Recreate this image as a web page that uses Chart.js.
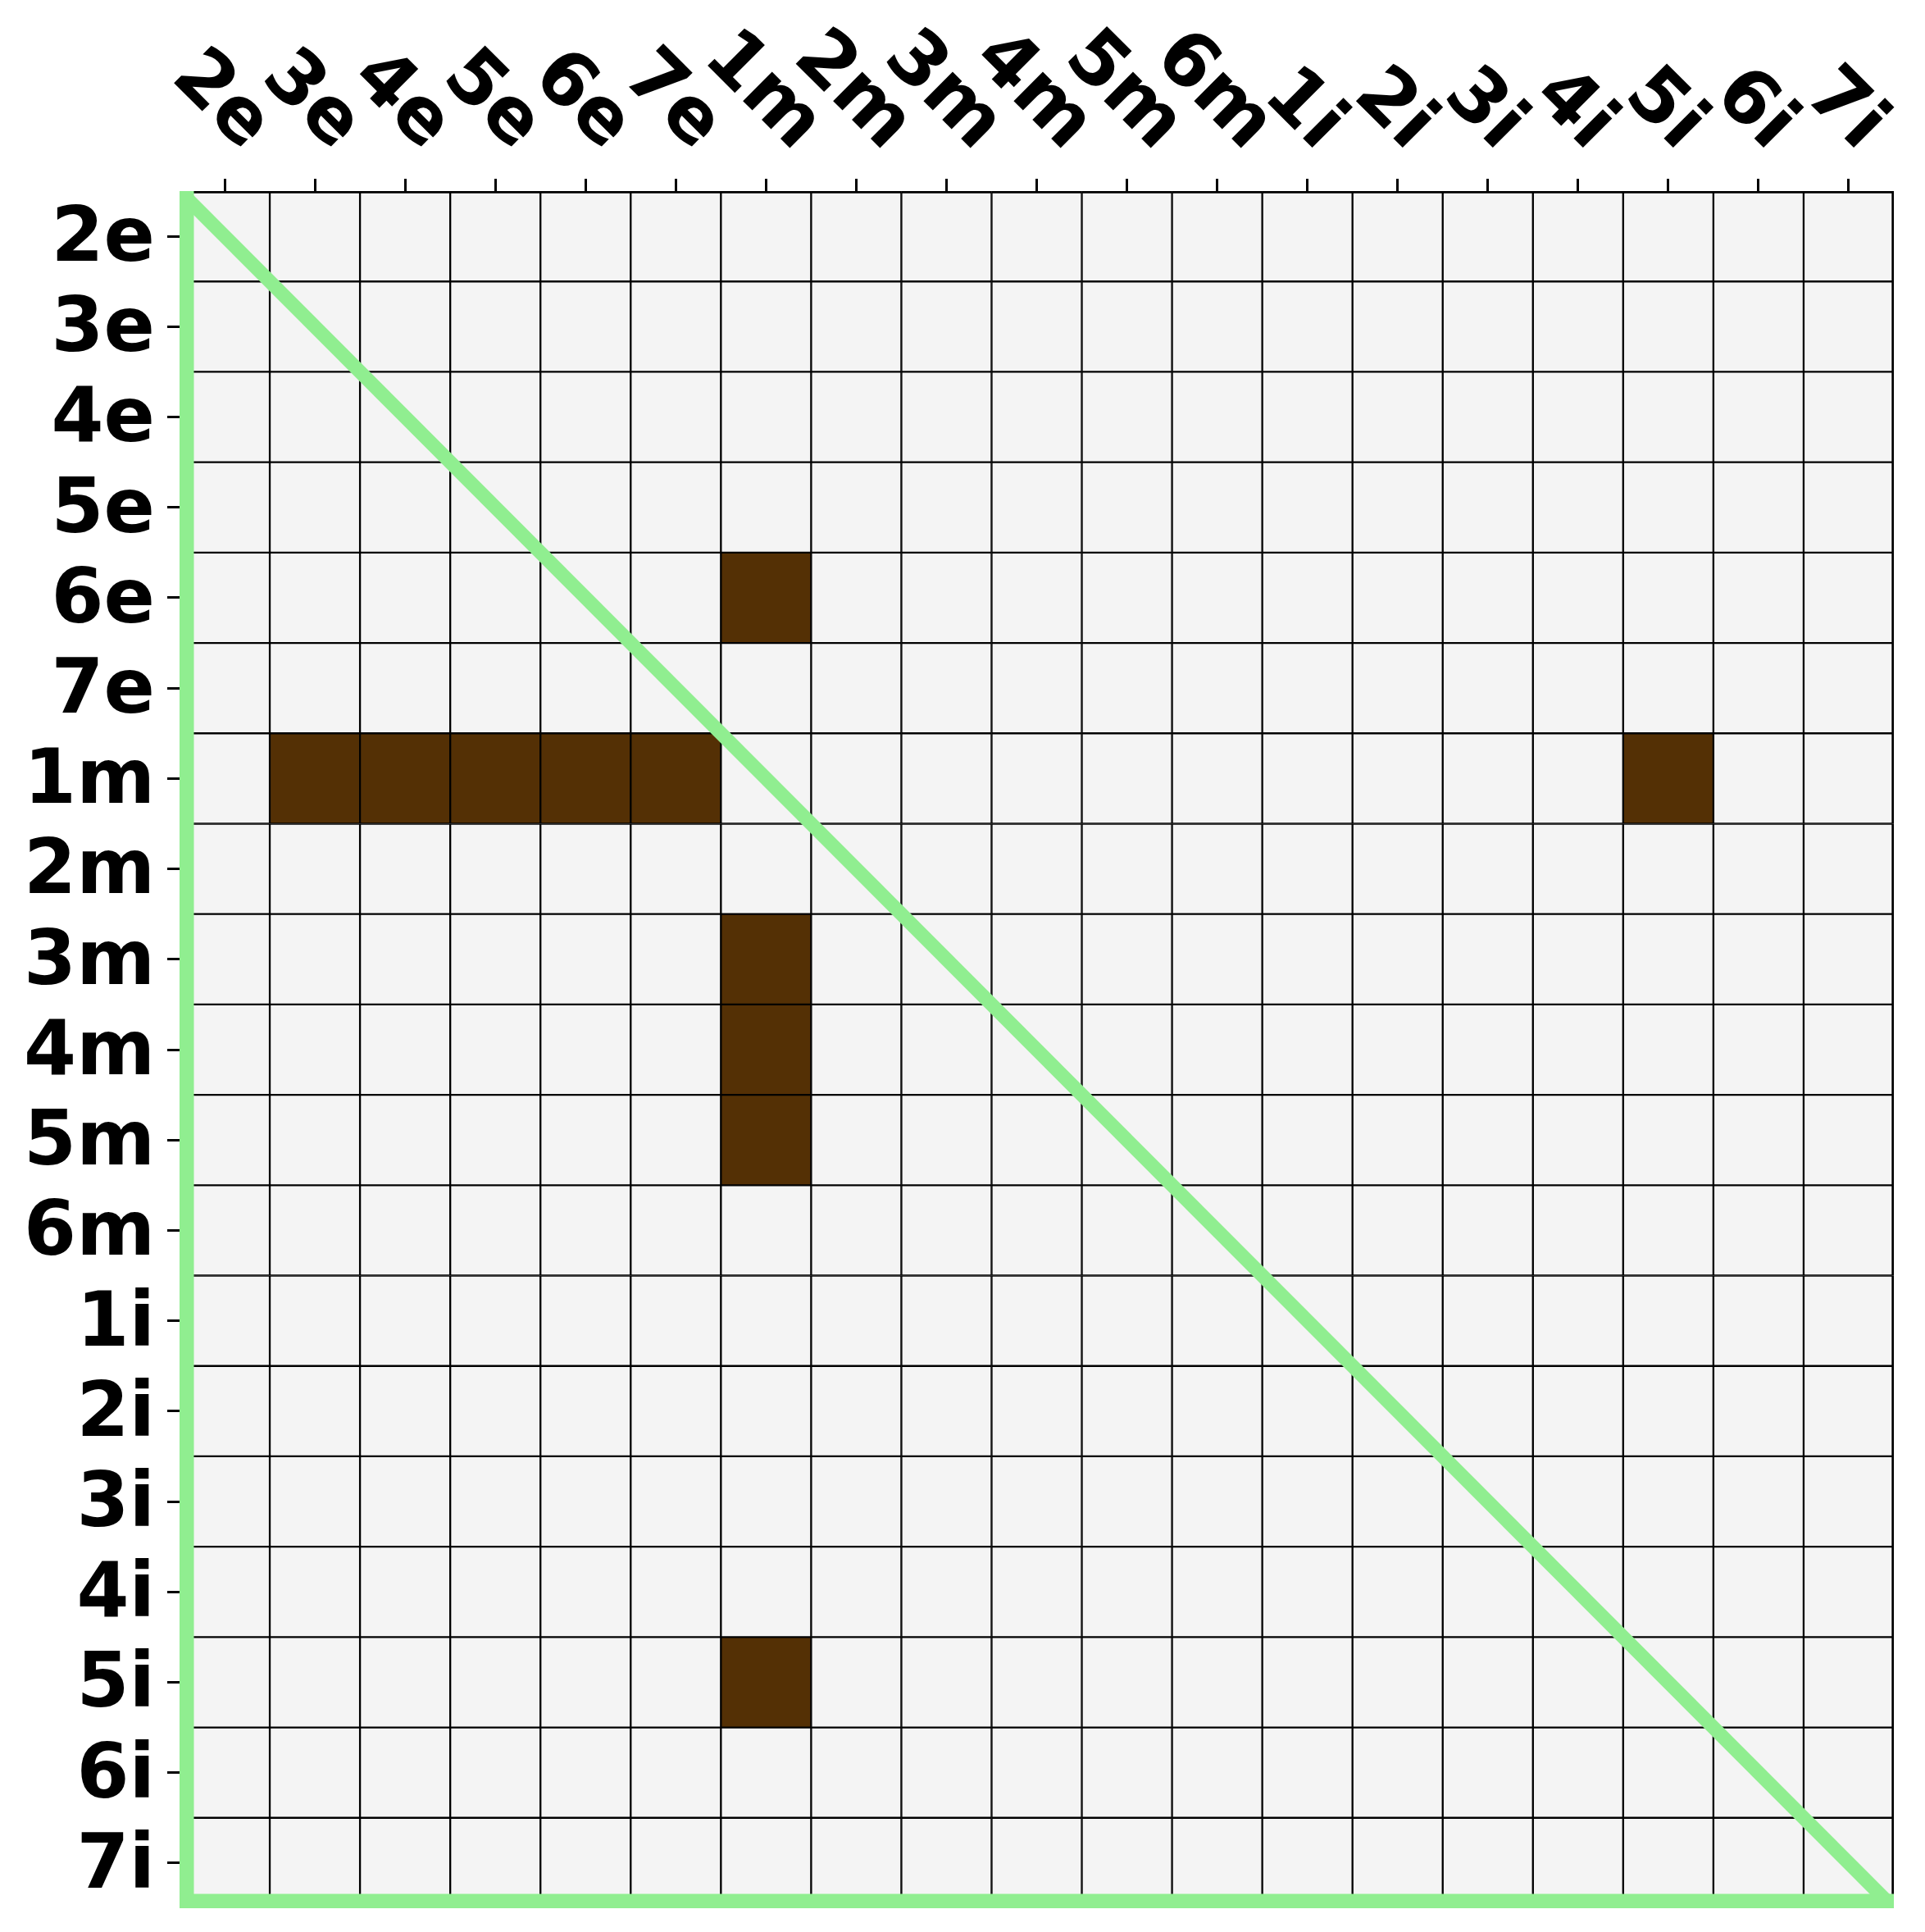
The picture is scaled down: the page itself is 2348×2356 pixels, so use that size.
<!DOCTYPE html>
<html>
<head>
<meta charset="utf-8">
<script src="https://cdn.jsdelivr.net/npm/chart.js@4.4.1/dist/chart.umd.min.js"></script>
<style>
  html, body { margin: 0; padding: 0; background: #fff; }
  #wrap { width: 2348px; height: 2356px; }
</style>
</head>
<body>
<div id="wrap"><canvas id="grid" width="2348" height="2356"></canvas></div>
<script>
/* 19x19 relation grid with a green triangle outline */

const labels = ['2e', '3e', '4e', '5e', '6e', '7e', '1m', '2m', '3m', '4m', '5m', '6m',
  '1i', '2i', '3i', '4i', '5i', '6i', '7i'];

// 1 = marked cell, rows top to bottom, columns left to right
const values = [
  [0,0,0,0,0,0,0,0,0,0,0,0,0,0,0,0,0,0,0], // 2e
  [0,0,0,0,0,0,0,0,0,0,0,0,0,0,0,0,0,0,0], // 3e
  [0,0,0,0,0,0,0,0,0,0,0,0,0,0,0,0,0,0,0], // 4e
  [0,0,0,0,0,0,0,0,0,0,0,0,0,0,0,0,0,0,0], // 5e
  [0,0,0,0,0,0,1,0,0,0,0,0,0,0,0,0,0,0,0], // 6e
  [0,0,0,0,0,0,0,0,0,0,0,0,0,0,0,0,0,0,0], // 7e
  [0,1,1,1,1,1,0,0,0,0,0,0,0,0,0,0,1,0,0], // 1m
  [0,0,0,0,0,0,0,0,0,0,0,0,0,0,0,0,0,0,0], // 2m
  [0,0,0,0,0,0,1,0,0,0,0,0,0,0,0,0,0,0,0], // 3m
  [0,0,0,0,0,0,1,0,0,0,0,0,0,0,0,0,0,0,0], // 4m
  [0,0,0,0,0,0,1,0,0,0,0,0,0,0,0,0,0,0,0], // 5m
  [0,0,0,0,0,0,0,0,0,0,0,0,0,0,0,0,0,0,0], // 6m
  [0,0,0,0,0,0,0,0,0,0,0,0,0,0,0,0,0,0,0], // 1i
  [0,0,0,0,0,0,0,0,0,0,0,0,0,0,0,0,0,0,0], // 2i
  [0,0,0,0,0,0,0,0,0,0,0,0,0,0,0,0,0,0,0], // 3i
  [0,0,0,0,0,0,0,0,0,0,0,0,0,0,0,0,0,0,0], // 4i
  [0,0,0,0,0,0,1,0,0,0,0,0,0,0,0,0,0,0,0], // 5i
  [0,0,0,0,0,0,0,0,0,0,0,0,0,0,0,0,0,0,0], // 6i
  [0,0,0,0,0,0,0,0,0,0,0,0,0,0,0,0,0,0,0], // 7i
];

// triangle corners, in cell units
const diagonal = [{ x: -0.5, y: -0.5 }, { x: 18.5, y: 18.5 }];
const leftBottom = [{ x: -0.5, y: -0.5 }, { x: -0.5, y: 18.5 }, { x: 18.5, y: 18.5 }];

const DARK = '#543005';
const LIGHT = '#f4f4f4';
const GREEN = '#90ee90';
const FONT = '"DejaVu Sans", sans-serif';
const N = labels.length;

const rowSets = values.map((row, r) => ({
  type: 'bar',
  label: labels[r],
  order: 1,
  grouped: false,
  barPercentage: 1,
  categoryPercentage: 1,
  data: row.map(() => [r - 0.5, r + 0.5]),
  backgroundColor: row.map((v) => (v ? DARK : LIGHT)),
  borderColor: '#000',
  borderSkipped: false,
  borderWidth: (c) => ({
    top: r === 0 ? 3 : 1.5,
    bottom: r === N - 1 ? 3 : 1.5,
    left: c.dataIndex === 0 ? 3 : 1.5,
    right: c.dataIndex === N - 1 ? 3 : 1.5,
  }),
}));

const lineSets = [
  { type: 'line', data: diagonal, borderWidth: 17 },
  { type: 'line', data: leftBottom, borderWidth: 35 },
].map((d) => ({
  ...d, order: 0, xAxisID: 'xl', yAxisID: 'y', borderColor: GREEN,
  pointRadius: 0, fill: false, tension: 0, clip: 0, borderJoinStyle: 'miter',
}));

// column labels sit above the grid, turned 45 degrees clockwise
const topLabels = {
  id: 'topLabels',
  afterDraw(chart) {
    const { ctx, chartArea } = chart;
    const sx = chart.scales.x;
    ctx.save();
    ctx.font = 'bold 92px ' + FONT;
    ctx.fillStyle = '#000';
    ctx.textAlign = 'center';
    ctx.textBaseline = 'alphabetic';
    labels.forEach((lab, i) => {
      const m = ctx.measureText(lab);
      const asc = m.fontBoundingBoxAscent || 85;
      const desc = m.fontBoundingBoxDescent || 22;
      const box = (m.width + asc + desc) * Math.SQRT1_2;
      const cx = sx.getPixelForTick(i);
      const cy = chartArea.top - 15 - 17 - box / 2;
      ctx.save();
      ctx.translate(cx, cy);
      ctx.rotate(Math.PI / 4);
      ctx.fillText(lab, 0, (asc - desc) / 2);
      ctx.restore();
    });
    ctx.restore();
  },
};

new Chart(document.getElementById('grid'), {
  type: 'bar',
  data: { labels, datasets: [...lineSets, ...rowSets] },
  plugins: [topLabels],
  options: {
    responsive: false,
    animation: false,
    layout: { padding: { top: 0, left: 0, right: 38, bottom: 29 } },
    plugins: { legend: { display: false }, tooltip: { enabled: false } },
    scales: {
      x: {
        type: 'category',
        position: 'top',
        offset: true,
        grid: { offset: false, drawOnChartArea: false, drawTicks: true, tickLength: 15, color: '#000', lineWidth: 3 },
        border: { display: false },
        ticks: { display: false },
        afterFit: (s) => { s.height = 233; s.paddingLeft = 0; s.paddingRight = 0; },
      },
      xl: { type: 'linear', display: false, offset: false, min: -0.5, max: 18.5 },
      y: {
        type: 'linear',
        reverse: true,
        min: -0.5,
        max: 18.5,
        afterBuildTicks: (s) => { s.ticks = labels.map((_, i) => ({ value: i })); },
        grid: { drawOnChartArea: false, tickLength: 15, color: '#000', lineWidth: 3 },
        border: { display: false },
        ticks: {
          autoSkip: false,
          padding: 15,
          labelOffset: 6,
          color: '#000',
          font: { family: FONT, size: 92, weight: 'bold' },
          callback: (v) => labels[v],
        },
        afterFit: (s) => { s.width = 219; s.paddingTop = 0; s.paddingBottom = 0; },
      },
    },
  },
});
</script>
</body>
</html>
